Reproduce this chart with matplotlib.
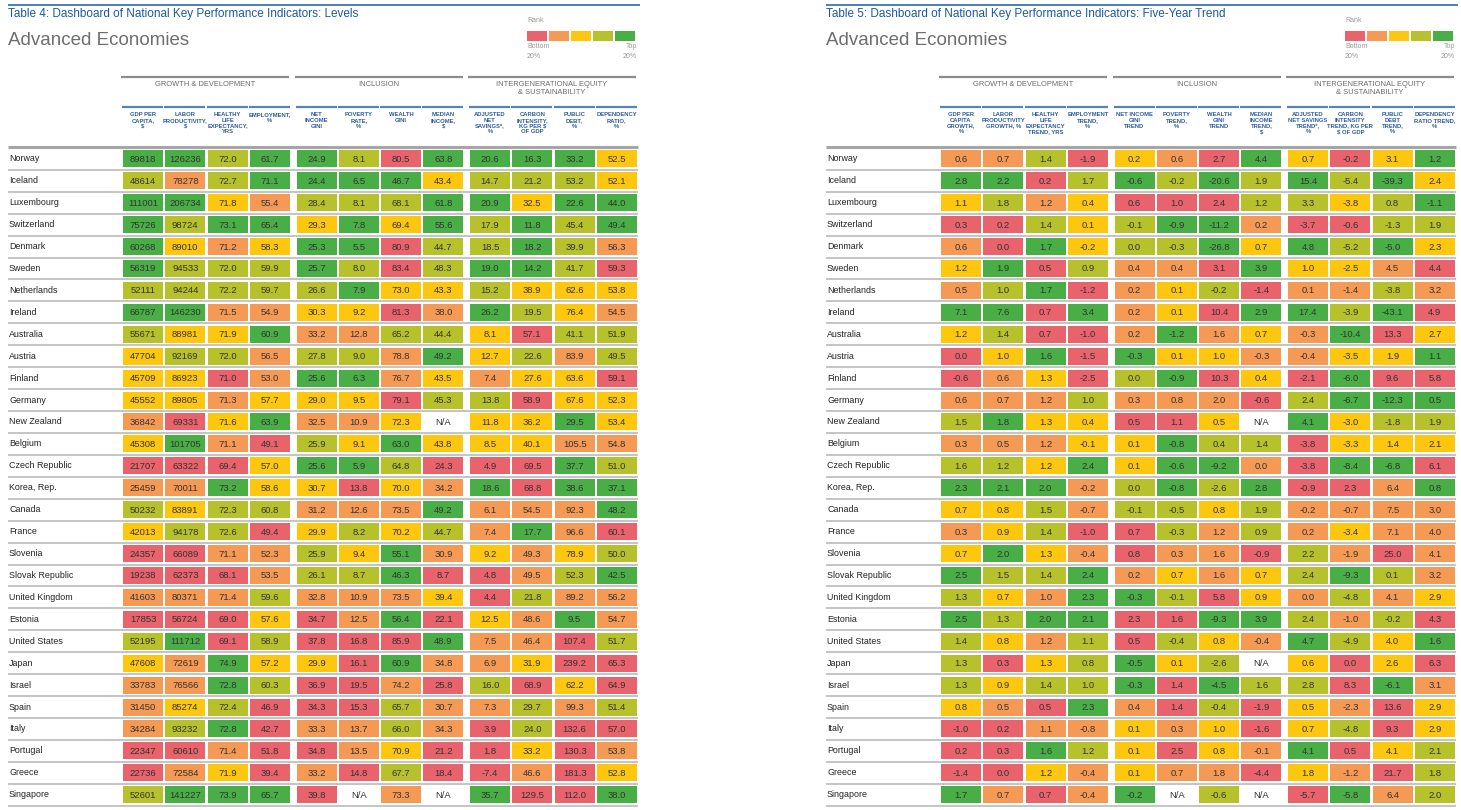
import matplotlib.pyplot as plt
from matplotlib.patches import Rectangle
from matplotlib import font_manager

names = {f.name for f in font_manager.fontManager.ttflist}
NARROW = 'Liberation Sans Narrow' if 'Liberation Sans Narrow' in names else 'Liberation Sans'
SANS = 'Liberation Sans'

NA = None

countries = ["Norway", "Iceland", "Luxembourg", "Switzerland", "Denmark", "Sweden",
             "Netherlands", "Ireland", "Australia", "Austria", "Finland", "Germany",
             "New Zealand", "Belgium", "Czech Republic", "Korea, Rep.", "Canada", "France",
             "Slovenia", "Slovak Republic", "United Kingdom", "Estonia", "United States",
             "Japan", "Israel", "Spain", "Italy", "Portugal", "Greece", "Singapore"]

groups = ["GROWTH & DEVELOPMENT", "INCLUSION", "INTERGENERATIONAL EQUITY\n& SUSTAINABILITY"]

levels_headers = ["GDP PER\nCAPITA,\n$", "LABOR\nPRODUCTIVITY,\n$", "HEALTHY\nLIFE\nEXPECTANCY,\nYRS",
                  "EMPLOYMENT,\n%", "NET\nINCOME\nGINI", "POVERTY\nRATE,\n%", "WEALTH\nGINI",
                  "MEDIAN\nINCOME,\n$", "ADJUSTED\nNET\nSAVINGS*,\n%", "CARBON\nINTENSITY,\nKG PER $\nOF GDP",
                  "PUBLIC\nDEBT,\n%", "DEPENDENCY\nRATIO,\n%"]

trend_headers = ["GDP PER\nCAPITA\nGROWTH,\n%", "LABOR\nPRODUCTIVITY\nGROWTH, %",
                 "HEALTHY\nLIFE\nEXPECTANCY\nTREND, YRS", "EMPLOYMENT\nTREND,\n%",
                 "NET INCOME\nGINI\nTREND", "POVERTY\nTREND,\n%", "WEALTH\nGINI\nTREND",
                 "MEDIAN\nINCOME\nTREND,\n$", "ADJUSTED\nNET SAVINGS\nTREND*,\n%",
                 "CARBON\nINTENSITY\nTREND, KG PER\n$ OF GDP", "PUBLIC\nDEBT\nTREND,\n%",
                 "DEPENDENCY\nRATIO TREND,\n%"]

levels = [
    [89818, 126236, 72.0, 61.7, 24.9, 8.1, 80.5, 63.8, 20.6, 16.3, 33.2, 52.5],
    [48614, 78278, 72.7, 71.1, 24.4, 6.5, 46.7, 43.4, 14.7, 21.2, 53.2, 52.1],
    [111001, 206734, 71.8, 55.4, 28.4, 8.1, 68.1, 61.8, 20.9, 32.5, 22.6, 44.0],
    [75726, 98724, 73.1, 65.4, 29.3, 7.8, 69.4, 55.6, 17.9, 11.8, 45.4, 49.4],
    [60268, 89010, 71.2, 58.3, 25.3, 5.5, 80.9, 44.7, 18.5, 18.2, 39.9, 56.3],
    [56319, 94533, 72.0, 59.9, 25.7, 8.0, 83.4, 48.3, 19.0, 14.2, 41.7, 59.3],
    [52111, 94244, 72.2, 59.7, 26.6, 7.9, 73.0, 43.3, 15.2, 38.9, 62.6, 53.8],
    [66787, 146230, 71.5, 54.9, 30.3, 9.2, 81.3, 38.0, 26.2, 19.5, 76.4, 54.5],
    [55671, 88981, 71.9, 60.9, 33.2, 12.8, 65.2, 44.4, 8.1, 57.1, 41.1, 51.9],
    [47704, 92169, 72.0, 56.5, 27.8, 9.0, 78.8, 49.2, 12.7, 22.6, 83.9, 49.5],
    [45709, 86923, 71.0, 53.0, 25.6, 6.3, 76.7, 43.5, 7.4, 27.6, 63.6, 59.1],
    [45552, 89805, 71.3, 57.7, 29.0, 9.5, 79.1, 45.3, 13.8, 58.9, 67.6, 52.3],
    [36842, 69331, 71.6, 63.9, 32.5, 10.9, 72.3, NA, 11.8, 36.2, 29.5, 53.4],
    [45308, 101705, 71.1, 49.1, 25.9, 9.1, 63.0, 43.8, 8.5, 40.1, 105.5, 54.8],
    [21707, 63322, 69.4, 57.0, 25.6, 5.9, 64.8, 24.3, 4.9, 69.5, 37.7, 51.0],
    [25459, 70011, 73.2, 58.6, 30.7, 13.8, 70.0, 34.2, 18.6, 68.8, 38.6, 37.1],
    [50232, 83891, 72.3, 60.8, 31.2, 12.6, 73.5, 49.2, 6.1, 54.5, 92.3, 48.2],
    [42013, 94178, 72.6, 49.4, 29.9, 8.2, 70.2, 44.7, 7.4, 17.7, 96.6, 60.1],
    [24357, 66089, 71.1, 52.3, 25.9, 9.4, 55.1, 30.9, 9.2, 49.3, 78.9, 50.0],
    [19238, 62373, 68.1, 53.5, 26.1, 8.7, 46.3, 8.7, 4.8, 49.5, 52.3, 42.5],
    [41603, 80371, 71.4, 59.6, 32.8, 10.9, 73.5, 39.4, 4.4, 21.8, 89.2, 56.2],
    [17853, 56724, 69.0, 57.6, 34.7, 12.5, 56.4, 22.1, 12.5, 48.6, 9.5, 54.7],
    [52195, 111712, 69.1, 58.9, 37.8, 16.8, 85.9, 48.9, 7.5, 46.4, 107.4, 51.7],
    [47608, 72619, 74.9, 57.2, 29.9, 16.1, 60.9, 34.8, 6.9, 31.9, 239.2, 65.3],
    [33783, 76566, 72.8, 60.3, 36.9, 19.5, 74.2, 25.8, 16.0, 68.9, 62.2, 64.9],
    [31450, 85274, 72.4, 46.9, 34.3, 15.3, 65.7, 30.7, 7.3, 29.7, 99.3, 51.4],
    [34284, 93232, 72.8, 42.7, 33.3, 13.7, 66.0, 34.3, 3.9, 24.0, 132.6, 57.0],
    [22347, 60610, 71.4, 51.8, 34.8, 13.5, 70.9, 21.2, 1.8, 33.2, 130.3, 53.8],
    [22736, 72584, 71.9, 39.4, 33.2, 14.8, 67.7, 18.4, -7.4, 46.6, 181.3, 52.8],
    [52601, 141227, 73.9, 65.7, 39.8, NA, 73.3, NA, 35.7, 129.5, 112.0, 38.0],
]

# rank per cell: R bottom 20%, O, Y, L, G top 20%, N = no data
levels_rank = ["GGLGGLRGGGGY", "LOLGGGGYLLLY", "GGYOLLLGGYGG", "GLGGYGYGLGLG", "GYOYGGRLLGLO",
               "GLLLGLRLGGLR", "LLLLLGYYLYYY", "GGOOYYROGLYO", "LYYGOOLLYRLL", "YLLOLLOGYLOL",
               "YYROGGOYOYYR", "YYOYYYRLLRYY", "ORYGOOYNYYGY", "YGORLYGYYYOO", "RRRYGGLRRRGL",
               "OOGYYRYOGRGG", "LYLLOOOGOOOG", "YLLRYLYLOGOR", "RROOLYGOYOYL", "RRROLLGRROLG",
               "OOOLOOOYRLOO", "RRRYROGRYOGO", "LGRLRRRGOORL", "YOGYYRGOOYRR", "OOGLRRORLRYR",
               "OYLRRRLOOLOL", "OLGROOLORLRR", "RRORROYRRYRO", "ROYRORLRRORY", "LGGGRNONGRRG"]

trend = [
    [0.6, 0.7, 1.4, -1.9, 0.2, 0.6, 2.7, 4.4, 0.7, -0.2, 3.1, 1.2],
    [2.8, 2.2, 0.2, 1.7, -0.6, -0.2, -20.6, 1.9, 15.4, -5.4, -39.3, 2.4],
    [1.1, 1.8, 1.2, 0.4, 0.6, 1.0, 2.4, 1.2, 3.3, -3.8, 0.8, -1.1],
    [0.3, 0.2, 1.4, 0.1, -0.1, -0.9, -11.2, 0.2, -3.7, -0.6, -1.3, 1.9],
    [0.6, 0.0, 1.7, -0.2, 0.0, -0.3, -26.8, 0.7, 4.8, -5.2, -5.0, 2.3],
    [1.2, 1.9, 0.5, 0.9, 0.4, 0.4, 3.1, 3.9, 1.0, -2.5, 4.5, 4.4],
    [0.5, 1.0, 1.7, -1.2, 0.2, 0.1, -0.2, -1.4, 0.1, -1.4, -3.8, 3.2],
    [7.1, 7.6, 0.7, 3.4, 0.2, 0.1, 10.4, 2.9, 17.4, -3.9, -43.1, 4.9],
    [1.2, 1.4, 0.7, -1.0, 0.2, -1.2, 1.6, 0.7, -0.3, -10.4, 13.3, 2.7],
    [0.0, 1.0, 1.6, -1.5, -0.3, 0.1, 1.0, -0.3, -0.4, -3.5, 1.9, 1.1],
    [-0.6, 0.6, 1.3, -2.5, 0.0, -0.9, 10.3, 0.4, -2.1, -6.0, 9.6, 5.8],
    [0.6, 0.7, 1.2, 1.0, 0.3, 0.8, 2.0, -0.6, 2.4, -6.7, -12.3, 0.5],
    [1.5, 1.8, 1.3, 0.4, 0.5, 1.1, 0.5, NA, 4.1, -3.0, -1.8, 1.9],
    [0.3, 0.5, 1.2, -0.1, 0.1, -0.8, 0.4, 1.4, -3.8, -3.3, 1.4, 2.1],
    [1.6, 1.2, 1.2, 2.4, 0.1, -0.6, -9.2, 0.0, -3.8, -8.4, -6.8, 6.1],
    [2.3, 2.1, 2.0, -0.2, 0.0, -0.8, -2.6, 2.8, -0.9, 2.3, 6.4, 0.8],
    [0.7, 0.8, 1.5, -0.7, -0.1, -0.5, 0.8, 1.9, -0.2, -0.7, 7.5, 3.0],
    [0.3, 0.9, 1.4, -1.0, 0.7, -0.3, 1.2, 0.9, 0.2, -3.4, 7.1, 4.0],
    [0.7, 2.0, 1.3, -0.4, 0.8, 0.3, 1.6, -0.9, 2.2, -1.9, 25.0, 4.1],
    [2.5, 1.5, 1.4, 2.4, 0.2, 0.7, 1.6, 0.7, 2.4, -9.3, 0.1, 3.2],
    [1.3, 0.7, 1.0, 2.3, -0.3, -0.1, 5.8, 0.9, 0.0, -4.8, 4.1, 2.9],
    [2.5, 1.3, 2.0, 2.1, 2.3, 1.6, -9.3, 3.9, 2.4, -1.0, -0.2, 4.3],
    [1.4, 0.8, 1.2, 1.1, 0.5, -0.4, 0.8, -0.4, 4.7, -4.9, 4.0, 1.6],
    [1.3, 0.3, 1.3, 0.8, -0.5, 0.1, -2.6, NA, 0.6, 0.0, 2.6, 6.3],
    [1.3, 0.9, 1.4, 1.0, -0.3, 1.4, -4.5, 1.6, 2.8, 8.3, -6.1, 3.1],
    [0.8, 0.5, 0.5, 2.3, 0.4, 1.4, -0.4, -1.9, 0.5, -2.3, 13.6, 2.9],
    [-1.0, 0.2, 1.1, -0.8, 0.1, 0.3, 1.0, -1.6, 0.7, -4.8, 9.3, 2.9],
    [0.2, 0.3, 1.6, 1.2, 0.1, 2.5, 0.8, -0.1, 4.1, 0.5, 4.1, 2.1],
    [-1.4, 0.0, 1.2, -0.4, 0.1, 0.7, 1.8, -4.4, 1.8, -1.2, 21.7, 1.8],
    [1.7, 0.7, 0.7, -0.4, -0.2, NA, -0.6, NA, -5.7, -5.8, 6.4, 2.0],
]

trend_rank = ["OOLRYORGYRYG", "GGRLGLGLGLGY", "YLOYRRRLLYLG", "RRLYLGGORRLL", "ORGYLLGYGLGY",
              "YGRLOORGYYOR", "OLGROYLROOLO", "GGRGOYRGGLGR", "YLRROGOYOGRY", "RYGRGYYOOYYG",
              "ROYRLGRYRGRR", "OOOLOOORLGGG", "LGYYRRYNGYLL", "OOOYYGLLRYYY", "LLYGYGGORGGR",
              "GGGOLGLGRROG", "YYLOLLYLOOOO", "OYLRRLOLOYOO", "YGYOROORLORO", "GLLGOYOYLGLO",
              "LYOGGLRYOLOY", "GLGGRRGGLOLR", "LYOLRLYOGLYG", "LRYLGYLNYRYR", "LYLLGRGLLRGO",
              "YORGORLRYORY", "RROOYOYRYLRY", "RRGLYRYOGRYL", "RRYOYOORYORL", "GOROGNLNRGOL"]

rank_colors = {'R': '#e8636c', 'O': '#f59a55', 'Y': '#fdc70f', 'L': '#b6c12b',
               'G': '#4aae47', 'N': 'white'}
legend_order = ['R', 'O', 'Y', 'L', 'G']


def fmt_levels(j, v):
    if v is None:
        return "N/A"
    return f"{v:.0f}" if j < 2 else f"{v:.1f}"


def fmt_trend(j, v):
    if v is None:
        return "N/A"
    return f"{v:.1f}"


fig = plt.figure(figsize=(14.61, 8.10), dpi=100)
ax = fig.add_axes([0, 0, 1, 1])
ax.set_xlim(0, 1461)
ax.set_ylim(810, 0)
ax.axis('off')


def draw_table(x0, title, headers, values, ranks, fmt):
    # header block
    ax.plot([x0 + 8, x0 + 640], [4.5, 4.5], color='#2a6ab3', lw=1.2, solid_capstyle='butt')
    ax.text(x0 + 8, 14.5, title, fontsize=8.5, color='#1a5aa3', family=SANS, va='center')
    ax.text(x0 + 8, 40.5, "Advanced Economies", fontsize=13.5, color='#6e6e6e',
            family=SANS, va='center')

    # legend
    ax.text(x0 + 527, 20, "Rank", fontsize=5, color='#999999', family=SANS, va='center')
    for k, r in enumerate(legend_order):
        ax.add_patch(Rectangle((x0 + 527 + 22 * k, 30.5), 20, 10, color=rank_colors[r], lw=0))
    ax.text(x0 + 527, 51.5, "Bottom\n20%", fontsize=5, color='#999999', family=SANS,
            va='center', linespacing=1.4)
    ax.text(x0 + 637, 51.5, "Top\n20%", fontsize=5, color='#999999', family=SANS,
            va='center', ha='right', multialignment='right', linespacing=1.4)

    # group headers
    for g, name in enumerate(groups):
        gx = x0 + 121 + g * 173.5
        ax.plot([gx, gx + 168], [77, 77], color='#8c8c8c', lw=1.6, solid_capstyle='butt')
        ax.text(gx + 84, 80.5, name, fontsize=5.4, color='#6a6a6a', family=SANS,
                ha='center', va='top', linespacing=1.35)

    def col_x(j):
        return x0 + 123 + (j // 4) * 173.5 + (j % 4) * 42.3

    for j, h in enumerate(headers):
        cx = col_x(j)
        ax.plot([cx - 1, cx + 40], [107, 107], color='#5583c2', lw=1.6, solid_capstyle='butt')
        ax.text(cx + 20, 112, h, fontsize=4.2, color='#2a5c9e', family=NARROW,
                weight='bold', ha='center', va='top', linespacing=1.2)

    ax.plot([x0 + 8, x0 + 638], [146.5, 146.5], color='#a5a5a5', lw=2.2, solid_capstyle='butt')

    # rows
    for i, c in enumerate(countries):
        yc = 158.8 + 21.93 * i
        ax.text(x0 + 9, yc, c, fontsize=6.4, color='#222222', family=NARROW, va='center')
        for j, v in enumerate(values[i]):
            cx = col_x(j)
            ax.add_patch(Rectangle((cx, yc - 8.5), 40, 17, color=rank_colors[ranks[i][j]], lw=0))
            ax.text(cx + 20, yc + 0.5, fmt(j, v), fontsize=6.8, color='#333333', family=NARROW,
                    ha='center', va='center')
        ax.plot([x0 + 8, x0 + 638], [yc + 11, yc + 11], color='#b4b4b4', lw=1.1,
                solid_capstyle='butt')


draw_table(0, "Table 4: Dashboard of National Key Performance Indicators: Levels",
           levels_headers, levels, levels_rank, fmt_levels)
draw_table(818, "Table 5: Dashboard of National Key Performance Indicators: Five-Year Trend",
           trend_headers, trend, trend_rank, fmt_trend)

fig.savefig("out.png", dpi=100)
